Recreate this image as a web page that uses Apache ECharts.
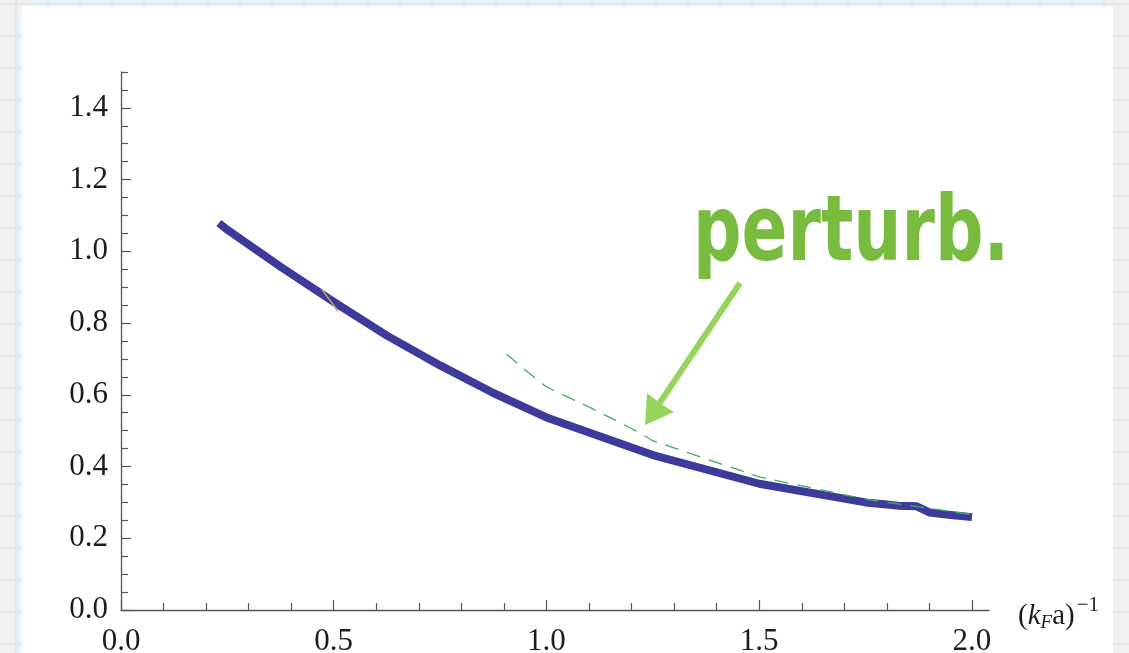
<!DOCTYPE html>
<html>
<head>
<meta charset="utf-8">
<script src="https://cdn.jsdelivr.net/npm/echarts@6/dist/echarts.min.js"></script>
<style>
  html, body { margin: 0; padding: 0; }
  body {
    width: 1129px; height: 653px; overflow: hidden;
    background-color: #eff2f4;
    background-image:
      linear-gradient(to right, rgba(200, 219, 231, 0) 0, rgba(200, 219, 231, 0.45) 2px, rgba(200, 219, 231, 0) 4px),
      linear-gradient(to bottom, rgba(200, 219, 231, 0) 0, rgba(200, 219, 231, 0.45) 2px, rgba(200, 219, 231, 0) 4px);
    background-size: 32px 32px;
    background-position: 14px 2px;
    position: relative;
  }
  #panel { position: absolute; left: 22px; top: 6px; width: 1091px; height: 647px; background: #ffffff; }
  #chart { position: absolute; left: 0; top: 0; width: 1129px; height: 653px; }
</style>
</head>
<body>
<div id="panel"></div>
<div id="chart"></div>
<script>
// Full (thick) curve
const X_FULL = [0.23, 0.25, 0.375, 0.5, 0.625, 0.75, 0.875, 1.0, 1.25, 1.5, 1.75, 1.8, 1.825, 1.87, 1.9, 1.95, 2.0];
const Y_FULL = [1.079, 1.06, 0.957, 0.859, 0.765, 0.682, 0.605, 0.537, 0.432, 0.352, 0.300, 0.294, 0.291, 0.289, 0.272, 0.265, 0.259];

// Perturbative result (dashed)
const X_PERT = [0.906, 0.95, 1.0, 1.1, 1.2, 1.25, 1.5, 1.75, 2.0];
const Y_PERT = [0.713, 0.669, 0.622, 0.566, 0.506, 0.472, 0.371, 0.309, 0.266];

// Short olive segment near x = 0.5
const X_SEG = [0.471, 0.510];
const Y_SEG = [0.896, 0.833];

// Axis ticks and labels
const X_LABELS = [0, 0.5, 1.0, 1.5, 2.0];
const X_MINOR = [0.1, 0.2, 0.3, 0.4, 0.6, 0.7, 0.8, 0.9, 1.1, 1.2, 1.3, 1.4, 1.6, 1.7, 1.8, 1.9];
const Y_LABELS = [0, 0.2, 0.4, 0.6, 0.8, 1.0, 1.2, 1.4];
const Y_MINOR = [0.05, 0.1, 0.15, 0.25, 0.3, 0.35, 0.45, 0.5, 0.55, 0.65, 0.7, 0.75, 0.85, 0.9, 0.95,
                 1.05, 1.1, 1.15, 1.25, 1.3, 1.35, 1.45, 1.5];

const X_MAX = 2.04;
const Y_MAX = 1.5;

const zip = (xs, ys) => xs.map((x, i) => [x, ys[i]]);

const SERIF = '"Liberation Serif", "DejaVu Serif", serif';
const AXIS_COLOR = '#555555';
const TEXT_COLOR = '#1c1c1c';

const chart = echarts.init(document.getElementById('chart'), null, { renderer: 'canvas' });

const baseAxis = {
  type: 'value',
  min: 0,
  splitLine: { show: false },
  minorTick: { show: false },
  minorSplitLine: { show: false }
};

chart.setOption({
  backgroundColor: 'transparent',
  animation: false,
  grid: { left: 121, top: 72, right: 140, bottom: 43, containLabel: false, outerBoundsMode: 'none' },
  xAxis: [
    Object.assign({}, baseAxis, {
      max: X_MAX,
      position: 'bottom',
      axisLine: { show: true, lineStyle: { color: AXIS_COLOR, width: 1.3 } },
      axisTick: { show: true, inside: true, length: 10, customValues: X_LABELS, lineStyle: { color: AXIS_COLOR, width: 1.2 } },
      axisLabel: {
        show: true, customValues: X_LABELS, margin: 16,
        formatter: v => Number(v).toFixed(1),
        fontFamily: SERIF, fontSize: 31, color: TEXT_COLOR
      },
      // (k_F a)^-1 : subscript pushed down with top padding, superscript pinned to the line top
      name: '{a|(}{i|k}{s|F}{a|a)}{u|\u22121}',
      nameLocation: 'end',
      nameGap: 29,
      nameTextStyle: {
        padding: [13, 0, 0, 0],
        rich: {
          a: { fontFamily: SERIF, fontSize: 29, color: TEXT_COLOR, lineHeight: 44, verticalAlign: 'middle' },
          i: { fontFamily: SERIF, fontSize: 29, fontStyle: 'italic', color: TEXT_COLOR, lineHeight: 44, verticalAlign: 'middle' },
          s: { fontFamily: SERIF, fontSize: 19, fontStyle: 'italic', color: TEXT_COLOR, lineHeight: 44, verticalAlign: 'middle', padding: [13, 0, 0, 0] },
          u: { fontFamily: SERIF, fontSize: 21, color: TEXT_COLOR, verticalAlign: 'top', padding: [0, 0, 0, 2] }
        }
      }
    }),
    Object.assign({}, baseAxis, {
      max: X_MAX,
      position: 'bottom',
      offset: 0,
      axisLine: { show: false },
      axisTick: { show: true, inside: true, length: 7, customValues: X_MINOR, lineStyle: { color: AXIS_COLOR, width: 1.2 } },
      axisLabel: { show: false }
    })
  ],
  yAxis: [
    Object.assign({}, baseAxis, {
      max: Y_MAX,
      position: 'left',
      axisLine: { show: true, lineStyle: { color: AXIS_COLOR, width: 1.3 } },
      axisTick: { show: true, inside: true, length: 10, customValues: Y_LABELS, lineStyle: { color: AXIS_COLOR, width: 1.2 } },
      axisLabel: {
        show: true, customValues: Y_LABELS, margin: 13,
        formatter: v => Number(v).toFixed(1),
        fontFamily: SERIF, fontSize: 31, color: TEXT_COLOR
      }
    }),
    Object.assign({}, baseAxis, {
      max: Y_MAX,
      position: 'left',
      offset: 0,
      axisLine: { show: false },
      axisTick: { show: true, inside: true, length: 7, customValues: Y_MINOR, lineStyle: { color: AXIS_COLOR, width: 1.2 } },
      axisLabel: { show: false }
    })
  ],
  series: [
    {
      name: 'full',
      type: 'line',
      xAxisIndex: 0, yAxisIndex: 0,
      data: zip(X_FULL, Y_FULL),
      showSymbol: false, symbol: 'none',
      smooth: false,
      lineStyle: { color: '#3c3a9b', width: 8, cap: 'butt', join: 'round' },
      z: 3
    },
    {
      name: 'perturbative',
      type: 'line',
      xAxisIndex: 0, yAxisIndex: 0,
      data: zip(X_PERT, Y_PERT),
      showSymbol: false, symbol: 'none',
      lineStyle: { color: '#3fae62', width: 1.3, type: [14, 9] },
      z: 4
    },
    {
      name: 'segment',
      type: 'line',
      xAxisIndex: 0, yAxisIndex: 0,
      data: zip(X_SEG, Y_SEG),
      showSymbol: false, symbol: 'none',
      lineStyle: { color: '#b9a862', width: 1.6 },
      z: 5
    }
  ],
  graphic: [
    {
      type: 'text',
      x: 693, y: 236,
      scaleX: 0.745, scaleY: 1,
      style: {
        text: 'perturb.',
        font: 'bold 91px "DejaVu Sans", sans-serif',
        fill: '#79bb3f',
        textAlign: 'left',
        textVerticalAlign: 'middle'
      },
      z: 10
    },
    {
      type: 'line',
      shape: { x1: 740, y1: 283, x2: 659, y2: 404 },
      style: { stroke: '#96d45c', lineWidth: 6 },
      z: 10
    },
    {
      type: 'polygon',
      shape: { points: [[645, 425], [647, 393], [661, 404], [674, 412]] },
      style: { fill: '#96d45c' },
      z: 10
    }
  ]
});
</script>
</body>
</html>
